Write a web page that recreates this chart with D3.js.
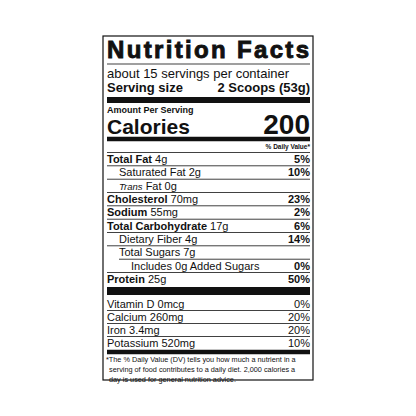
<!DOCTYPE html>
<html>
<head>
<script src="https://d3js.org/d3.v7.min.js"></script>
<style>
  body { margin: 0; background: #fff; }
  text { font-family: "Liberation Sans", Arial, sans-serif; fill: #111; }
</style>
</head>
<body>
<div id="label"></div>
<script>
// main nutrients
const names = ["Total Fat", "Saturated Fat", "Trans Fat", "Cholesterol", "Sodium", "Total Carbohydrate", "Dietary Fiber", "Total Sugars", "Includes 0g Added Sugars", "Protein"];
const amounts = ["4g", "2g", "0g", "70mg", "55mg", "17g", "4g", "7g", "", "25g"];
const dv = ["5%", "10%", "", "23%", "2%", "6%", "14%", "", "0%", "50%"];
const indent = [0, 1, 1, 0, 0, 0, 1, 1, 2, 0];
const boldName = [1, 0, 0, 1, 1, 1, 0, 0, 0, 1];
// vitamins & minerals
const minerals = ["Vitamin D 0mcg", "Calcium 260mg", "Iron 3.4mg", "Potassium 520mg"];
const mineralDv = ["0%", "20%", "20%", "10%"];
const footnote = ["*The % Daily Value (DV) tells you how much a nutrient in a",
  "serving of food contributes to a daily diet. 2,000 calories a",
  "day is used for general nutrition advice."];

const svg = d3.select("#label").append("svg").attr("width", 416).attr("height", 416);
const L = 103, R = 313, pl = 107, pr = 310;

svg.append("rect").attr("x", L).attr("y", 36).attr("width", R - L).attr("height", 344)
  .attr("fill", "#fff").attr("stroke", "#111").attr("stroke-width", 1.2);

const hline = (y, w, x0) => svg.append("rect").attr("x", x0 || pl).attr("y", y - w / 2)
  .attr("width", pr - (x0 || pl)).attr("height", w).attr("fill", "#111");

svg.append("text").attr("x", pl).attr("y", 58).attr("textLength", pr - pl - 1)
  .attr("lengthAdjust", "spacing").style("font-size", "24px").style("font-weight", 900)
  .style("stroke", "#111").style("stroke-width", 0.9).text("Nutrition Facts");
hline(64, 0.8);
svg.append("text").attr("x", pl).attr("y", 78).style("font-size", "13px").text("about 15 servings per container");
svg.append("text").attr("x", pl).attr("y", 92).style("font-size", "13px").style("font-weight", "bold").text("Serving size");
svg.append("text").attr("x", pr).attr("y", 92).attr("text-anchor", "end").style("font-size", "13px").style("font-weight", "bold").text("2 Scoops (53g)");
hline(100, 6);
svg.append("text").attr("x", pl).attr("y", 113).style("font-size", "9px").style("font-weight", "bold").text("Amount Per Serving");
svg.append("text").attr("x", pl).attr("y", 134).style("font-size", "21px").style("font-weight", "bold").text("Calories");
svg.append("text").attr("x", pr).attr("y", 134).attr("text-anchor", "end").style("font-size", "28px").style("font-weight", "bold").text("200");
hline(139, 4.5);
svg.append("text").attr("x", pr).attr("y", 149).attr("text-anchor", "end").style("font-size", "6.5px").style("font-weight", "bold").text("% Daily Value*");

const y = d3.scalePoint().domain(d3.range(names.length)).range([163, 283]);
const ind = d3.scaleLinear().domain([0, 2]).range([pl, pl + 24]);

names.forEach((n, i) => {
  hline(y(i) - 10.5, 0.8, i === 8 ? ind(1) : pl);
  const t = svg.append("text").attr("x", ind(indent[i])).attr("y", y(i)).style("font-size", "11px");
  if (n === "Trans Fat") {
    t.append("tspan").style("font-style", "italic").style("font-size", "9.5px").text("Trans");
    t.append("tspan").text(" Fat " + amounts[i]);
  } else {
    t.append("tspan").style("font-weight", boldName[i] ? "bold" : "normal").text(n);
    if (amounts[i]) t.append("tspan").text(" " + amounts[i]);
  }
  if (dv[i]) svg.append("text").attr("x", pr).attr("y", y(i)).attr("text-anchor", "end")
    .style("font-size", "11px").style("font-weight", "bold").text(dv[i]);
});
hline(291, 8);

const ym = d3.scalePoint().domain(d3.range(minerals.length)).range([308, 347]);
minerals.forEach((m, i) => {
  if (i > 0) hline(ym(i) - 10.5, 0.8);
  svg.append("text").attr("x", pl).attr("y", ym(i)).style("font-size", "11px").text(m);
  svg.append("text").attr("x", pr).attr("y", ym(i)).attr("text-anchor", "end").style("font-size", "11px").text(mineralDv[i]);
});
hline(352, 4.5);
footnote.forEach((f, i) => {
  svg.append("text").attr("x", i ? pl + 2 : pl - 1).attr("y", 362 + i * 10).style("font-size", "7.3px").text(f);
});
</script>
</body>
</html>
